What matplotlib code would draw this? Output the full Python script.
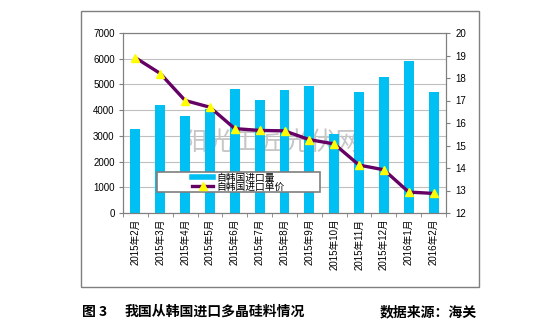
import matplotlib
matplotlib.use("Agg")
import matplotlib.pyplot as plt
from matplotlib.lines import Line2D
from matplotlib.patches import Rectangle
import numpy as np

plt.rcParams['font.family'] = ['Liberation Sans', 'Noto Sans CJK SC']

# data
months = ["2015年2月", "2015年3月", "2015年4月", "2015年5月", "2015年6月", "2015年7月",
          "2015年8月", "2015年9月", "2015年10月", "2015年11月", "2015年12月",
          "2016年1月", "2016年2月"]
volume = [3260, 4210, 3790, 4060, 4830, 4400, 4780, 4930, 3090, 4690, 5280, 5900, 4710]
price = [18.9, 18.2, 17.0, 16.7, 15.75, 15.67, 15.65, 15.26, 15.07, 14.13, 13.92, 12.93, 12.87]
vol_label = "自韩国进口量"
price_label = "自韩国进口单价"

bar_color = "#00BFF2"
line_color = "#650065"
marker_color = "#FFFF00"
frame_gray = "#7f7f7f"

fig = plt.figure(figsize=(5.4, 3.35), dpi=100)

# outer chart frame
fig.patches.append(Rectangle((81 / 540, 48 / 335), 398 / 540, 276 / 335,
                             transform=fig.transFigure, fill=False,
                             edgecolor=frame_gray, lw=1.0))

ax = fig.add_axes([123 / 540, 1 - 213 / 335, 323 / 540, 180 / 335])
x = np.arange(len(months))
ax.bar(x, volume, width=0.4, color=bar_color, zorder=2)
ax.set_xlim(-0.5, len(months) - 0.5)
ax.set_ylim(0, 7000)
ax.set_yticks(range(0, 7001, 1000))
ax.yaxis.grid(True, color="#bfbfbf", lw=0.8, zorder=0)
ax.set_axisbelow(True)
ax.set_xticks(x)
ax.set_xticklabels(months, rotation=90, fontsize=7)
ax.set_xticks(np.arange(-0.5, len(months)), minor=True)
ax.tick_params(axis="x", which="major", length=0, pad=4)
ax.tick_params(axis="x", which="minor", length=3, color=frame_gray, direction="out")
ax.tick_params(axis="y", labelsize=7, length=3, color=frame_gray, pad=3)
for s in ax.spines.values():
    s.set_color(frame_gray)

# watermark sits behind the bars
ax.text(272 / 540, 1 - 143 / 335, "阳光工匠光伏网", fontsize=18.5,
        family=['Noto Sans CJK SC'], color="#c6c6c6", transform=fig.transFigure,
        ha="center", va="center", zorder=1.5)

ax2 = ax.twinx()
ax2.plot(x, price, color=line_color, lw=2.4, marker="^", markersize=6,
         markerfacecolor=marker_color, markeredgecolor=marker_color, zorder=3)
ax2.set_ylim(12, 20)
ax2.set_yticks(range(12, 21))
ax2.tick_params(axis="y", labelsize=7, length=3, color=frame_gray, pad=4)
for s in ax2.spines.values():
    s.set_color(frame_gray)

# legend with a wide box, content centred
ax2.add_patch(Rectangle((0.105, 0.117), 0.505, 0.111, transform=ax2.transAxes,
                        facecolor="white", edgecolor=frame_gray, lw=1.2, zorder=4))
handles = [Line2D([], [], color=bar_color, lw=4),
           Line2D([], [], color=line_color, lw=2.4, marker="^", markersize=6,
                  markerfacecolor=marker_color, markeredgecolor=marker_color)]
leg = ax2.legend(handles, [vol_label, price_label], loc="center",
                 bbox_to_anchor=(0.357, 0.172), frameon=False,
                 labelspacing=-0.1, handlelength=2.2, handletextpad=0.3,
                 borderpad=0, prop={'family': ['Noto Sans CJK SC'], 'size': 7})
leg.set_zorder(5)

# caption
cap_y = 1 - 312 / 335
fig.text(82 / 540, cap_y, "图 3", fontsize=10, fontweight="bold",
         family=['Noto Sans CJK SC'], va="center")
fig.text(125 / 540, cap_y, "我国从韩国进口多晶硅料情况", fontsize=10, fontweight="bold",
         family=['Noto Sans CJK SC'], va="center")
fig.text(477 / 540, cap_y, "数据来源：海关", fontsize=10, fontweight="bold",
         family=['Noto Sans CJK SC'], va="center", ha="right")

fig.savefig("out.png", dpi=100)
